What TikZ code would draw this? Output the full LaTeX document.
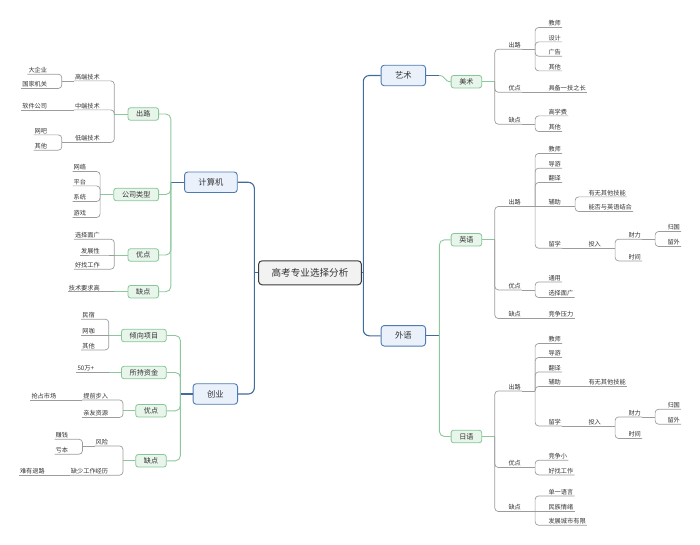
\documentclass[tikz,border=0pt]{standalone}
\usepackage{fontspec}
\setmainfont{Noto Sans CJK SC}
\definecolor{txt}{HTML}{333333}
\definecolor{rootfill}{HTML}{F2F2F2}
\definecolor{rootline}{HTML}{3C3C3C}
\definecolor{lonefill}{HTML}{EAF1FB}
\definecolor{loneline}{HTML}{4E7BB2}
\definecolor{ltwofill}{HTML}{E7F5EA}
\definecolor{ltwoline}{HTML}{88C597}
\definecolor{blueline}{HTML}{3F6C9C}
\definecolor{greenline}{HTML}{8CC89B}
\definecolor{grayline}{HTML}{9C9C9C}
\tikzset{
  root/.style={draw=rootline, fill=rootfill, line width=1pt, rounded corners=3.5pt,
    font=\fontsize{9.6}{11}\selectfont, text=txt, minimum height=24pt, inner xsep=13pt, inner ysep=0pt},
  lone/.style={draw=loneline, fill=lonefill, line width=0.9pt, rounded corners=3pt,
    font=\fontsize{8.3}{10}\selectfont, text=txt, minimum height=20.5pt, inner xsep=13.9pt, inner ysep=0pt},
  ltwo/.style={draw=ltwoline, fill=ltwofill, line width=0.8pt, rounded corners=2.5pt,
    font=\fontsize{7.1}{8}\selectfont, text=txt, minimum height=12.5pt, inner xsep=8.2pt, inner ysep=0pt},
  leaf/.style={font=\fontsize{6.2}{7}\selectfont, text=txt, inner xsep=1pt, inner ysep=0.5pt,
    text height=5.2pt, text depth=1pt},
  lr/.style={leaf, anchor=south west},
  ll/.style={leaf, anchor=south east},
  bl/.style={draw=blueline, line width=1.1pt, rounded corners=6pt},
  gr/.style={draw=greenline, line width=0.9pt, rounded corners=5pt},
  gy/.style={draw=grayline, line width=0.7pt, rounded corners=3.5pt},
}
\newcommand\rjun[1]{\draw[gy] (#1.south east) -- ++(13,0) coordinate (#1j);}
\newcommand\ljun[1]{\draw[gy] (#1.south west) -- ++(-12,0) coordinate (#1j);}
\newcommand\rkids[2]{\foreach \n in {#2} {\draw[gy] (#1) |- (\n.south west) -- (\n.south east);}}
\newcommand\lkids[2]{\foreach \n in {#2} {\draw[gy] (#1) |- (\n.south east) -- (\n.south west);}}
\begin{document}
\begin{tikzpicture}[x=1pt,y=-1pt]
\useasboundingbox (0,0) rectangle (700,545);
% ---------- root and level 1
\node[root] (root) at (310,272.8) {高考专业选择分析};
\node[lone, anchor=east] (jsj) at (237.7,182.3) {计算机};
\node[lone, anchor=east] (cy) at (238,394) {创业};
\node[lone, anchor=west] (ys) at (380.7,75.5) {艺术};
\node[lone, anchor=west] (wy) at (380.7,335.8) {外语};
% ---------- level 2
\node[ltwo, anchor=west] (ms) at (450.7,81.7) {美术};
\node[ltwo, anchor=west] (yy) at (450.7,239.8) {英语};
\node[ltwo, anchor=west] (ry) at (450.7,436.5) {日语};
\node[ltwo, anchor=east] (c1) at (159,114) {出路};
\node[ltwo, anchor=east] (c2) at (159,194.5) {公司类型};
\node[ltwo, anchor=east] (c3) at (159,255) {优点};
\node[ltwo, anchor=east] (c4) at (159,291.7) {缺点};
\node[ltwo, anchor=east] (s1) at (166.7,335.5) {倾向项目};
\node[ltwo, anchor=east] (s2) at (166.7,372.5) {所持资金};
\node[ltwo, anchor=east] (s3) at (166.7,410.8) {优点};
\node[ltwo, anchor=east] (s4) at (166.7,460.8) {缺点};
% ---------- art
\node[lr] (a1) at (507.3,49.2) {出路};
\node[lr] (a11) at (547.3,27.5) {教师};
\node[lr] (a12) at (547.3,41.9) {设计};
\node[lr] (a13) at (547.3,56.2) {广告};
\node[lr] (a14) at (547.3,70.9) {其他};
\node[lr] (a2) at (507.3,92.3) {优点};
\node[lr] (a21) at (547.3,92.3) {具备一技之长};
\node[lr] (a3) at (507.3,124.2) {缺点};
\node[lr] (a31) at (547.3,115.9) {高学费};
\node[lr] (a32) at (547.3,131.5) {其他};
% ---------- English
\node[lr] (e1) at (507.3,206.5) {出路};
\node[lr] (e11) at (547.3,153.5) {教师};
\node[lr] (e12) at (547.3,168.2) {导游};
\node[lr] (e13) at (547.3,182.5) {翻译};
\node[lr] (e14) at (547.3,206.5) {辅助};
\node[lr] (e141) at (587.3,196.9) {有无其他技能};
\node[lr] (e142) at (587.3,211.5) {能否与英语结合};
\node[lr] (e15) at (547.3,248.2) {留学};
\node[lr] (e151) at (587.3,248.2) {投入};
\node[lr] (e1511) at (627.3,239.2) {财力};
\node[lr] (e15111) at (666.3,231.5) {归国};
\node[lr] (e15112) at (666.3,246.5) {留外};
\node[lr] (e1512) at (627.3,260.9) {时间};
\node[lr] (e2) at (507.3,289.9) {优点};
\node[lr] (e21) at (547.3,281.9) {通用};
\node[lr] (e22) at (547.3,297.5) {选择面广};
\node[lr] (e3) at (507.3,318.5) {缺点};
\node[lr] (e31) at (547.3,318.5) {竞争压力};
% ---------- Japanese
\node[lr] (j1) at (507.3,390.9) {出路};
\node[lr] (j11) at (547.3,343.5) {教师};
\node[lr] (j12) at (547.3,357.5) {导游};
\node[lr] (j13) at (547.3,371.9) {翻译};
\node[lr] (j14) at (547.3,386.5) {辅助};
\node[lr] (j141) at (587.3,386.5) {有无其他技能};
\node[lr] (j15) at (547.3,425.9) {留学};
\node[lr] (j151) at (587.3,425.9) {投入};
\node[lr] (j1511) at (627.3,416.9) {财力};
\node[lr] (j15111) at (666.3,409.2) {归国};
\node[lr] (j15112) at (666.3,424.2) {留外};
\node[lr] (j1512) at (627.3,438.5) {时间};
\node[lr] (j2) at (507.3,467.5) {优点};
\node[lr] (j21) at (547.3,460.2) {竞争小};
\node[lr] (j22) at (547.3,474.9) {好找工作};
\node[lr] (j3) at (507.3,511.5) {缺点};
\node[lr] (j31) at (547.3,495.9) {单一语言};
\node[lr] (j32) at (547.3,511.5) {民族情绪};
\node[lr] (j33) at (547.3,525.2) {发展城市有限};
% ---------- computer
\node[ll] (c11) at (101,80.9) {高端技术};
\node[ll] (c111) at (48.3,74.2) {大企业};
\node[ll] (c112) at (48.3,88.5) {国家机关};
\node[ll] (c12) at (101,109.9) {中端技术};
\node[ll] (c121) at (48.3,109.9) {软件公司};
\node[ll] (c13) at (101,142.5) {低端技术};
\node[ll] (c131) at (48.3,134.9) {网吧};
\node[ll] (c132) at (48.3,150.2) {其他};
\node[ll] (c21) at (87.3,171.5) {网络};
\node[ll] (c22) at (87.3,185.9) {平台};
\node[ll] (c23) at (87.3,201.5) {系统};
\node[ll] (c24) at (87.3,217.5) {游戏};
\node[ll] (c31) at (101,239.2) {选择面广};
\node[ll] (c32) at (101,255) {发展性};
\node[ll] (c33) at (101,269.2) {好找工作};
\node[ll] (c41) at (101,291.7) {技术要求高};
% ---------- startup
\node[ll] (s11) at (96,319.2) {民宿};
\node[ll] (s12) at (96,335.5) {网咖};
\node[ll] (s13) at (96,349.9) {其他};
\node[leaf, anchor=south west] (s21) at (76.3,372.5) {50万+};
\node[ll] (s31) at (109.3,399.9) {提前步入};
\node[ll] (s311) at (57.5,399.9) {抢占市场};
\node[ll] (s32) at (109.3,417.5) {亲友资源};
\node[ll] (s41) at (109.3,445.9) {风险};
\node[ll] (s411) at (69.3,439.2) {赚钱};
\node[ll] (s412) at (69.3,454.2) {亏本};
\node[ll] (s42) at (109.3,475.2) {缺少工作经历};
\node[ll] (s421) at (46,475.2) {难有退路};
% ================= connectors
\coordinate (rlj) at (254.3,272.8);
\coordinate (rrj) at (363.3,272.8);
\draw[bl] (root.west) -- (rlj);
\draw[bl] (root.east) -- (rrj);
\draw[bl] (rlj) |- (jsj.east);
\draw[bl] (rlj) |- (cy.east);
\draw[bl] (rrj) |- (ys.west);
\draw[bl] (rrj) |- (wy.west);
% level 1 -> level 2
\draw[bl] (jsj.west) -- ++(-13.3,0) coordinate (jsjj);
\foreach \n in {c1,c2,c3,c4} {\draw[gr] (jsjj) |- (\n.east);}
\draw[bl] (cy.west) -- ++(-12.3,0) coordinate (cyj);
\foreach \n in {s1,s2,s3,s4} {\draw[gr] (cyj) |- (\n.east);}
\draw[bl] (ys.east) -- ++(13,0) coordinate (ysj);
\draw[greenline, line width=0.9pt] (ysj) .. controls +(7,0) and +(-7,0) .. (ms.west);
\draw[bl] (wy.east) -- ++(13.4,0) coordinate (wyj);
\foreach \n in {yy,ry} {\draw[gr] (wyj) |- (\n.west);}
% art
\draw[gr] (ms.east) -- ++(12.7,0) coordinate (msj);
\rkids{msj}{a1,a2,a3}
\rjun{a1}\rkids{a1j}{a11,a12,a13,a14}
\draw[gy] (a2.south east) -- (a21.south west) -- (a21.south east);
\rjun{a3}\rkids{a3j}{a31,a32}
% English
\draw[gr] (yy.east) -- ++(12.7,0) coordinate (yyj);
\rkids{yyj}{e1,e2,e3}
\rjun{e1}\rkids{e1j}{e11,e12,e13,e15}
\draw[gy] (e1j) -- (e14.south west) -- (e14.south east);
\rjun{e14}\rkids{e14j}{e141,e142}
\draw[gy] (e15.south east) -- (e151.south west) -- (e151.south east);
\rjun{e151}\rkids{e151j}{e1511,e1512}
\rjun{e1511}\rkids{e1511j}{e15111,e15112}
\rjun{e2}\rkids{e2j}{e21,e22}
\draw[gy] (e3.south east) -- (e31.south west) -- (e31.south east);
% Japanese
\draw[gr] (ry.east) -- ++(12.7,0) coordinate (ryj);
\rkids{ryj}{j1,j2,j3}
\rjun{j1}\rkids{j1j}{j11,j12,j13,j14,j15}
\draw[gy] (j14.south east) -- (j141.south west) -- (j141.south east);
\draw[gy] (j15.south east) -- (j151.south west) -- (j151.south east);
\rjun{j151}\rkids{j151j}{j1511,j1512}
\rjun{j1511}\rkids{j1511j}{j15111,j15112}
\rjun{j2}\rkids{j2j}{j21,j22}
\rjun{j3}\rkids{j3j}{j31,j33}
\draw[gy] (j3j) -- (j32.south west) -- (j32.south east);
% computer
\draw[gr] (c1.west) -- ++(-13.3,0) coordinate (c1j);
\lkids{c1j}{c11,c12,c13}
\ljun{c11}\lkids{c11j}{c111,c112}
\draw[gy] (c12.south west) -- (c121.south east) -- (c121.south west);
\ljun{c13}\lkids{c13j}{c131,c132}
\draw[gr] (c2.west) -- ++(-13.3,0) coordinate (c2j);
\lkids{c2j}{c21,c22,c23,c24}
\draw[gr] (c3.west) -- ++(-13.3,0) coordinate (c3j);
\lkids{c3j}{c31,c33}
\draw[gy] (c3j) -- (c32.south east) -- (c32.south west);
\draw[gr] (c4.west) -- ++(-13.3,0) coordinate (c4j);
\draw[gy] (c4j) -- (c41.south east) -- (c41.south west);
% startup
\draw[gr] (s1.west) -- ++(-12.3,0) coordinate (s1j);
\lkids{s1j}{s11,s13}
\draw[gy] (s1j) -- (s12.south east) -- (s12.south west);
\draw[gr] (s2.west) -- ++(-12.3,0) coordinate (s2j);
\draw[gy] (s2j) -- (s21.south east) -- (s21.south west);
\draw[gr] (s3.west) -- ++(-12.3,0) coordinate (s3j);
\lkids{s3j}{s31,s32}
\draw[gy] (s31.south west) -- (s311.south east) -- (s311.south west);
\draw[gr] (s4.west) -- ++(-12.3,0) coordinate (s4j);
\lkids{s4j}{s41,s42}
\ljun{s41}\lkids{s41j}{s411,s412}
\draw[gy] (s42.south west) -- (s421.south east) -- (s421.south west);
\end{tikzpicture}
\end{document}
